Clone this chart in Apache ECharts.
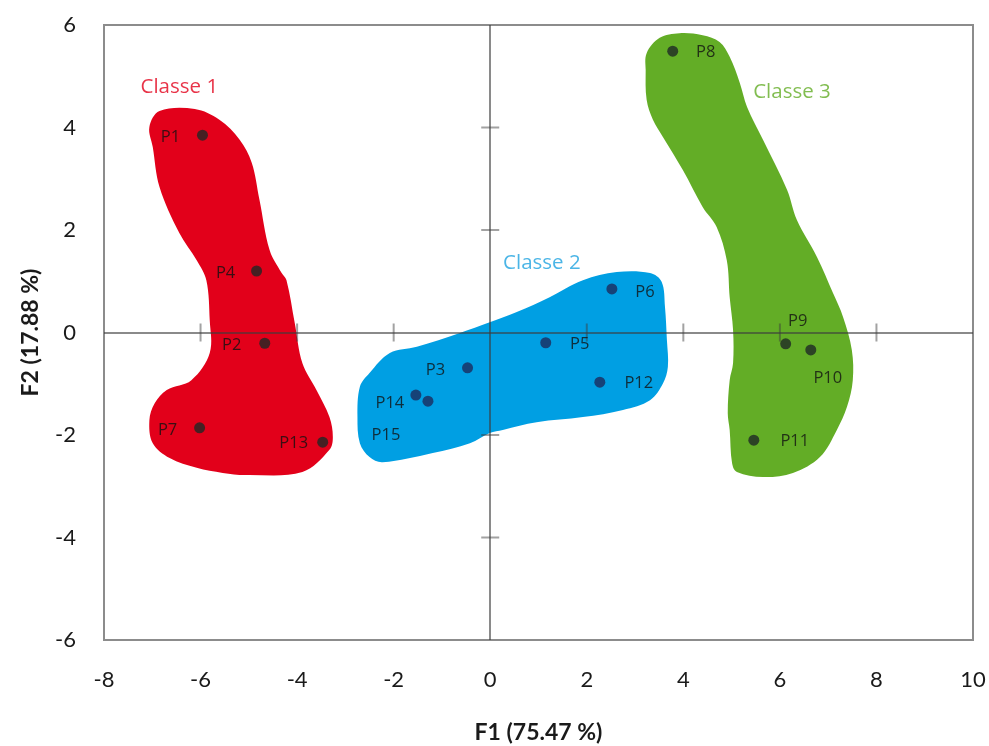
<!DOCTYPE html>
<html><head><meta charset="utf-8">
<script src="https://cdn.jsdelivr.net/npm/echarts@6/dist/echarts.min.js"></script>
<style>html,body{margin:0;padding:0;background:#fff}#c{width:989px;height:746px}</style>
</head><body><div id="c"></div>
<script>
// ---- data ----
const pointNames = ['P1','P2','P3','P4','P5','P6','P7','P8','P9','P10','P11','P12','P13','P14','P15'];
const f1Values   = [-5.96,-4.67,-0.47,-4.84,1.15,2.52,-6.02,3.78,6.12,6.64,5.46,2.27,-3.47,-1.54,-1.29];
const f2Values   = [3.85,-0.21,-0.69,1.20,-0.20,0.85,-1.86,5.49,-0.22,-0.34,-2.10,-0.97,-2.14,-1.22,-1.34];
const pointClass = [1,1,2,1,2,2,1,3,3,3,3,2,1,2,2];

const classNames = ['Classe 1','Classe 2','Classe 3'];
const classLabelF1 = [-6.44, 1.07, 6.25];
const classLabelF2 = [4.79, 1.36, 4.69];

const class1Outline = [[-7.06,4.01],[-6.85,4.32],[-6.12,4.36],[-5.61,4.15],[-5.19,3.76],[-4.94,3.31],[-4.78,2.59],[-4.57,1.61],[-4.32,1.16],[-4.22,1.02],[-4.05,0.19],[-3.89,-0.60],[-3.60,-1.12],[-3.33,-1.65],[-3.26,-2.04],[-3.33,-2.29],[-3.89,-2.72],[-5.05,-2.78],[-5.54,-2.74],[-6.08,-2.64],[-6.64,-2.45],[-6.99,-2.16],[-7.06,-1.71],[-6.95,-1.38],[-6.70,-1.12],[-6.19,-0.93],[-5.81,-0.40],[-5.81,0.24],[-5.88,1.02],[-6.08,1.41],[-6.44,1.94],[-6.85,2.84],[-6.99,3.62]];
const class2Outline = [[-2.08,-0.40],[-1.52,-0.28],[-0.63,-0.01],[-0.01,0.20],[0.55,0.40],[1.23,0.69],[1.92,1.02],[2.62,1.18],[3.31,1.16],[3.55,0.99],[3.62,0.50],[3.66,-0.15],[3.68,-0.67],[3.58,-0.99],[3.31,-1.32],[2.75,-1.51],[1.92,-1.65],[0.96,-1.75],[0.26,-1.90],[-0.01,-1.96],[-0.42,-2.16],[-1.19,-2.35],[-2.23,-2.53],[-2.50,-2.43],[-2.70,-2.16],[-2.75,-1.65],[-2.70,-1.06],[-2.50,-0.79]];
const class3Outline = [[3.24,5.45],[3.51,5.75],[3.92,5.84],[4.40,5.80],[4.75,5.67],[4.96,5.38],[5.17,4.87],[5.32,4.40],[5.65,3.76],[6.15,2.78],[6.35,2.20],[6.77,1.47],[7.10,0.77],[7.31,0.30],[7.49,-0.34],[7.51,-0.93],[7.39,-1.45],[7.18,-1.90],[6.83,-2.43],[6.27,-2.74],[5.65,-2.82],[5.11,-2.72],[5.01,-2.55],[4.96,-1.90],[4.92,-1.57],[4.96,-0.93],[5.03,-0.60],[5.03,0.05],[4.96,0.69],[4.90,1.41],[4.69,2.06],[4.40,2.45],[3.99,3.17],[3.58,3.81],[3.37,4.15],[3.24,4.54],[3.22,5.12]];

const xTicks = [-8,-6,-4,-2,0,2,4,6,8,10];
const yTicks = [-6,-4,-2,0,2,4,6];
const xCrossTicks = [-6,-4,-2,2,4,6,8];
const yCrossTicks = [-4,-2,2,4];

// ---- styles / layout ----
const outlines = [class1Outline, class2Outline, class3Outline];
const blobColors = ['#e2001a','#009fe3','#63ad26'];
const classTextColors = ['#e2001a','#1ea3e0','#63ad26'];
const pointColors = {1:'#1e2826', 2:'#1c2a5c', 3:'#1e2826'};
const labelOffsets = {
  P1:[-32,2], P2:[-33,2], P3:[-32,2], P4:[-31,2], P5:[34,2], P6:[33,3], P7:[-32,2],
  P8:[33,1], P9:[12,-22], P10:[17,28], P11:[41,1], P12:[39,1], P13:[-29,1], P14:[-26,8], P15:[-42,34]
};
const axisGray = 'rgba(60,60,60,0.6)';

const chart = echarts.init(document.getElementById('c'), null, {renderer:'canvas'});

const blobSeries = outlines.map((ol, k) => ({
  type: 'custom',
  z: 1,
  silent: true,
  data: [[k]],
  renderItem: function (params, api) {
    const pts = outlines[k].map(p => api.coord(p));
    return { type: 'polygon', shape: { points: pts, smooth: 0.35 }, style: { fill: blobColors[k] } };
  }
}));

const pointData = pointNames.map((n, i) => ({
  name: n,
  value: [f1Values[i], f2Values[i]],
  itemStyle: { color: pointColors[pointClass[i]] },
  label: { offset: labelOffsets[n] }
}));

const option = {
  backgroundColor: '#fff',
  animation: false,
  grid: { left: 104, right: 16, top: 25, bottom: 106, show: true, borderColor: '#8c8c8c', borderWidth: 2,
          backgroundColor: 'transparent', containLabel: false, outerBoundsMode: 'none' },
  xAxis: {
    type: 'value', min: xTicks[0], max: xTicks[xTicks.length-1], interval: 2,
    axisLine: { show: false }, axisTick: { show: false }, splitLine: { show: false },
    axisLabel: { fontSize: 22, color: '#1a1a1a', fontFamily: 'Lato', margin: 29 },
    name: 'F1 (75.47 %)', nameLocation: 'middle', nameGap: 81,
    nameTextStyle: { fontSize: 23, fontWeight: 'bold', color: '#1a1a1a', fontFamily: 'Lato' }
  },
  yAxis: {
    type: 'value', min: yTicks[0], max: yTicks[yTicks.length-1], interval: 2,
    axisLine: { show: false }, axisTick: { show: false }, splitLine: { show: false },
    axisLabel: { fontSize: 22, color: '#1a1a1a', fontFamily: 'Lato', margin: 28 },
    name: 'F2 (17.88 %)', nameLocation: 'middle', nameGap: 62,
    nameTextStyle: { fontSize: 23, fontWeight: 'bold', color: '#1a1a1a', fontFamily: 'Lato' }
  },
  series: [
    ...blobSeries,
    {
      type: 'scatter', z: 3, silent: true,
      symbol: 'rect', symbolSize: [2, 18],
      itemStyle: { color: axisGray },
      data: xCrossTicks.map(v => [v, 0]),
      markLine: {
        silent: true, symbol: 'none', animation: false,
        lineStyle: { color: axisGray, width: 2, type: 'solid' },
        label: { show: false },
        data: [{ xAxis: 0 }, { yAxis: 0 }]
      }
    },
    {
      type: 'scatter', z: 3, silent: true,
      symbol: 'rect', symbolSize: [18, 2],
      itemStyle: { color: axisGray },
      data: yCrossTicks.map(v => [0, v])
    },
    {
      type: 'scatter', z: 5,
      symbol: 'circle', symbolSize: 11,
      data: pointData,
      label: {
        show: true, position: 'inside', formatter: '{b}',
        fontSize: 16.5, color: '#111', fontFamily: 'Open Sans'
      }
    },
    {
      type: 'scatter', z: 6, symbolSize: 0, silent: true,
      data: classNames.map((n, i) => ({ name: n, value: [classLabelF1[i], classLabelF2[i]],
        label: { color: classTextColors[i] } })),
      label: { show: true, position: 'inside', formatter: '{b}', fontSize: 20.5, fontFamily: 'Open Sans' }
    }
  ]
};
chart.setOption(option);
</script>
</body></html>
